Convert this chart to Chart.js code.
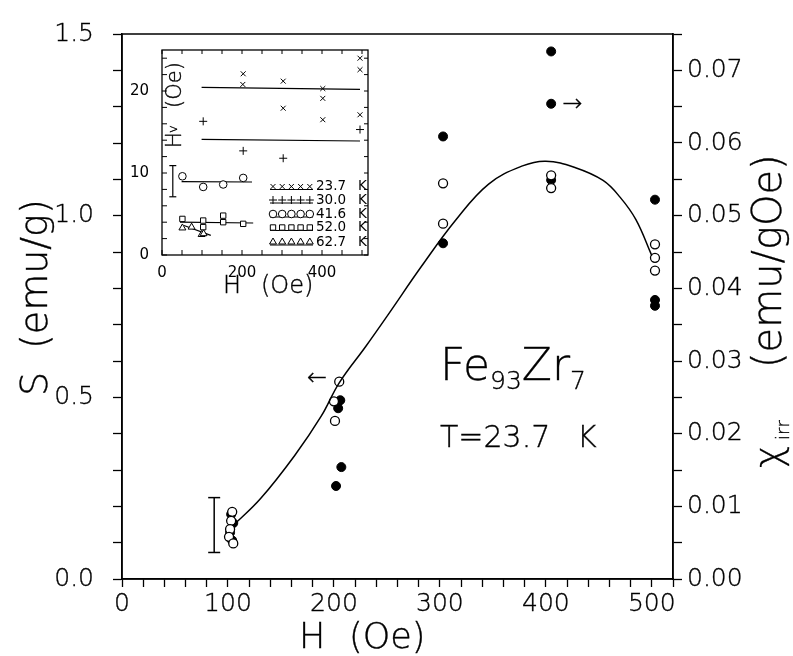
<!DOCTYPE html>
<html>
<head>
<meta charset="utf-8">
<script src="https://cdn.jsdelivr.net/npm/chart.js@4.4.1/dist/chart.umd.min.js"></script>
<style>
  html, body { margin: 0; padding: 0; background: #fff; }
  #wrap { position: relative; width: 793px; height: 656px; }
  #main { position: absolute; left: 0; top: 0; }
  #inset { position: absolute; left: 112px; top: 36px; }
</style>
</head>
<body>
<div id="wrap">
  <canvas id="main" width="793" height="656"></canvas>
  <canvas id="inset" width="262" height="266"></canvas>
</div>
<script>
// ---- main panel: remanence S (left axis) and chi_irr (right axis) vs H ----
const sField = [104, 103, 102, 101, 105, 205, 200, 201, 303, 303, 405, 405, 503, 503, 503];
const sValue = [0.185, 0.16, 0.137, 0.116, 0.098, 0.543, 0.489, 0.435, 1.089, 0.978, 1.111, 1.076, 0.921, 0.884, 0.849];

const chiField = [103, 105, 102, 104, 206, 204, 207, 202, 303, 303, 405, 405, 405, 503, 503, 503];
const chiValue = [0.0089, 0.0077, 0.0064, 0.0053, 0.0246, 0.0235, 0.0154, 0.0128, 0.0609, 0.0462, 0.0726, 0.0654, 0.0549, 0.0522, 0.0384, 0.0376];

// smooth guide through S(H)
const fitField = [106, 131, 163, 188, 205, 230, 251, 283, 315, 346, 378, 400, 428, 454, 470, 485, 500];
const fitS = [0.150, 0.222, 0.340, 0.448, 0.540, 0.640, 0.727, 0.862, 0.988, 1.087, 1.137, 1.150, 1.132, 1.097, 1.051, 0.989, 0.890];

// typical error bar on S
const errField = [87, 87];
const errS = [0.073, 0.224];

const xTickLabels = [0, 100, 200, 300, 400, 500];
const sTickLabels = [0, 0.5, 1.0, 1.5];
const chiTickLabels = [0, 0.01, 0.02, 0.03, 0.04, 0.05, 0.06, 0.07];

// ---- inset: Hv vs H at several temperatures ----
const temps = ['23.7', '30.0', '41.6', '52.0', '62.7'];
const insetField = [
  [203, 202, 303, 303, 402, 402, 402, 495, 495, 495],
  [103, 203, 303, 495],
  [51, 103, 153, 203],
  [51, 103, 103, 153, 153, 203],
  [51, 74, 99, 104]
];
const insetHv = [
  [22.1, 20.8, 21.2, 17.9, 20.3, 19.1, 16.5, 24.0, 22.6, 17.1],
  [16.3, 12.7, 11.8, 15.3],
  [9.6, 8.3, 8.6, 9.4],
  [4.4, 4.2, 3.4, 4.8, 4.0, 3.8],
  [3.3, 3.4, 2.5, 2.6]
];
const insetFitField = [[99, 495], [99, 495], [49, 225], [45, 228], [55, 122]];
const insetFitHv = [[20.45, 20.2], [14.1, 13.9], [8.95, 8.9], [4.0, 3.9], [3.6, 2.4]];
const insetErrField = [27, 27];
const insetErrHv = [7.1, 10.9];
const insetXTickLabels = [0, 200, 400];
const insetYTickLabels = [0, 10, 20];

const FONT = '"DejaVu Sans ExtraLight", "DejaVu Sans Light", "DejaVu Sans", sans-serif';
const SMALL = '"DejaVu Sans", sans-serif';
const OUTLINE = 0.35;
Chart.defaults.font.family = FONT;
Chart.defaults.font.weight = 200;
Chart.defaults.color = '#000';

const pts = (xs, ys) => xs.map((x, i) => ({ x: x, y: ys[i] }));
const has = (list, v) => list.some(t => Math.abs(t - v) < 1e-6);

// thin font, so each label gets a light outline as well
function label(ctx, text, x, y) {
  ctx.fillText(text, x, y);
  ctx.strokeText(text, x, y);
}

function rotatedText(ctx, x, y, parts) {
  // parts: [text, size, u offset, v offset]; drawn reading bottom-to-top
  ctx.save();
  ctx.translate(x, y);
  ctx.rotate(-Math.PI / 2);
  ctx.textAlign = 'left';
  ctx.textBaseline = 'alphabetic';
  parts.forEach(p => {
    ctx.font = `200 ${p[1]}px ${FONT}`;
    label(ctx, p[0], p[2], p[3]);
  });
  ctx.restore();
}

const mainDecor = {
  id: 'mainDecor',
  afterDraw(chart) {
    const { ctx, chartArea: a, scales } = chart;
    ctx.save();
    ctx.strokeStyle = '#000';
    ctx.lineWidth = 1.5;
    ctx.strokeRect(a.left, a.top, a.right - a.left, a.bottom - a.top);

    ctx.fillStyle = '#000';
    ctx.lineWidth = OUTLINE;
    ctx.textBaseline = 'alphabetic';
    ctx.textAlign = 'left';
    ctx.font = `200 35px ${FONT}`;
    label(ctx, 'H', 299, 648);
    label(ctx, '(Oe)', 349, 648);

    rotatedText(ctx, 47, 396, [['S', 38, 0, 0], ['(emu/g)', 38, 47, 0]]);
    rotatedText(ctx, 781, 468, [['\u03C7', 38, 0, 0], ['irr', 18, 28, 8], ['(emu/gOe)', 40, 100, 0]]);

    // sample label
    let x = 440;
    const put = (t, size, base) => {
      ctx.font = `200 ${size}px ${FONT}`;
      label(ctx, t, x, base);
      x += ctx.measureText(t).width;
    };
    put('Fe', 44, 380);
    put('93', 25, 389);
    put('Zr', 44, 380);
    put('7', 25, 389);
    ctx.font = `200 30px ${FONT}`;
    label(ctx, 'T=23.7', 440, 447);
    label(ctx, 'K', 577, 447);

    // arrows pointing to the axis each data set belongs to
    ctx.font = `200 24px ${FONT}`;
    ctx.textAlign = 'center';
    ctx.textBaseline = 'middle';
    label(ctx, '\u2190', scales.x.getPixelForValue(184), scales.y.getPixelForValue(0.551));
    label(ctx, '\u2192', scales.x.getPixelForValue(425), scales.y2.getPixelForValue(0.0653));
    ctx.restore();
  }
};

const tickFont = { size: 25 };

new Chart(document.getElementById('main'), {
  type: 'scatter',
  data: {
    datasets: [
      {
        type: 'line', data: pts(fitField, fitS), yAxisID: 'y',
        borderColor: '#000', borderWidth: 1.5, pointRadius: 0, tension: 0.4, fill: false
      },
      {
        data: pts(sField, sValue), yAxisID: 'y', pointStyle: 'circle', pointRadius: 4.5,
        backgroundColor: '#fff', borderColor: '#000', borderWidth: 1.3
      },
      {
        data: pts(chiField, chiValue), yAxisID: 'y2', pointStyle: 'circle', pointRadius: 4.5,
        backgroundColor: '#000', borderColor: '#000', borderWidth: 1
      },
      {
        type: 'line', data: pts(errField, errS), yAxisID: 'y', showLine: true,
        borderColor: '#000', borderWidth: 1.5, pointStyle: 'line', pointRadius: 6,
        pointBorderWidth: 1.5, pointBorderColor: '#000'
      }
    ]
  },
  options: {
    responsive: false,
    animation: false,
    layout: { padding: { top: 24, left: 0, right: 0, bottom: 0 } },
    plugins: { legend: { display: false }, tooltip: { enabled: false } },
    scales: {
      x: {
        type: 'linear', min: 0, max: 520,
        afterFit: s => { s.height = 77; },
        border: { color: '#000', width: 1.5 },
        grid: { drawOnChartArea: false, tickLength: 8, tickColor: '#000', tickWidth: 1.3 },
        ticks: {
          stepSize: 20, autoSkip: false, maxRotation: 0, padding: 2,
          font: tickFont, textStrokeColor: '#000', textStrokeWidth: OUTLINE,
          callback: v => has(xTickLabels, v) ? String(v) : ''
        }
      },
      y: {
        position: 'left', min: 0, max: 1.5,
        afterFit: s => { s.width = 122; },
        border: { color: '#000', width: 1.5 },
        grid: { drawOnChartArea: false, tickLength: 9, tickColor: '#000', tickWidth: 1.3 },
        ticks: {
          stepSize: 0.1, autoSkip: false, padding: 19,
          font: tickFont, textStrokeColor: '#000', textStrokeWidth: OUTLINE,
          callback: v => has(sTickLabels, v) ? v.toFixed(1) : ''
        }
      },
      y2: {
        position: 'right', min: 0, max: 0.075,
        afterFit: s => { s.width = 120; },
        border: { color: '#000', width: 1.5 },
        grid: { drawOnChartArea: false, tickLength: 9, tickColor: '#000', tickWidth: 1.3 },
        ticks: {
          stepSize: 0.005, autoSkip: false, padding: 5,
          font: tickFont, textStrokeColor: '#000', textStrokeWidth: OUTLINE,
          callback: v => has(chiTickLabels, v) ? v.toFixed(2) : ''
        }
      }
    }
  },
  plugins: [mainDecor]
});

// ---- inset ----
const markers = [
  { style: 'crossRot', radius: 3.5, fill: '#000' },
  { style: 'cross', radius: 4, fill: '#000' },
  { style: 'circle', radius: 3.8, fill: '#fff' },
  { style: 'rect', radius: 3.8, fill: '#fff' },
  { style: 'triangle', radius: 4, fill: '#fff' }
];

const insetDecor = {
  id: 'insetDecor',
  afterDraw(chart) {
    const { ctx, chartArea: a, scales } = chart;
    ctx.save();
    ctx.strokeStyle = '#000';
    ctx.lineWidth = 1.3;
    ctx.strokeRect(a.left, a.top, a.right - a.left, a.bottom - a.top);

    // inward ticks on all four sides
    ctx.lineWidth = 1;
    ctx.beginPath();
    scales.x.ticks.forEach(t => {
      const px = scales.x.getPixelForValue(t.value);
      ctx.moveTo(px, a.bottom); ctx.lineTo(px, a.bottom - 5);
      ctx.moveTo(px, a.top); ctx.lineTo(px, a.top + 4);
    });
    scales.y.ticks.forEach(t => {
      const py = scales.y.getPixelForValue(t.value);
      ctx.moveTo(a.left, py); ctx.lineTo(a.left + 5, py);
      ctx.moveTo(a.right, py); ctx.lineTo(a.right - 4, py);
    });
    ctx.stroke();

    ctx.fillStyle = '#000';
    ctx.lineWidth = OUTLINE;
    ctx.font = `200 24px ${FONT}`;
    ctx.textAlign = 'left';
    ctx.textBaseline = 'alphabetic';
    label(ctx, 'H', a.left + 61, a.bottom + 38);
    label(ctx, '(Oe)', a.left + 99, a.bottom + 38);

    rotatedText(ctx, a.left + 19, a.top + 98, [['H', 21, 0, 0], ['v', 13, 15, -4], ['(Oe)', 21, 40, 0]]);

    // legend
    const rows = [136.5, 150, 164, 177.5, 192];
    ctx.font = `13.5px ${SMALL}`;
    ctx.textBaseline = 'middle';
    ctx.lineWidth = 1;
    temps.forEach((t, i) => {
      const y = a.top + rows[i];
      const x0 = a.left + 108, x1 = a.left + 151;
      ctx.beginPath();
      ctx.moveTo(x0, y + 3); ctx.lineTo(x1, y + 3);
      ctx.stroke();
      const m = markers[i];
      for (let k = 0; k < 5; k++) {
        ctx.fillStyle = m.fill;
        Chart.helpers.drawPoint(ctx, { pointStyle: m.style, radius: m.radius, rotation: 0, borderWidth: 1 },
          x0 + 3 + k * 9.2, y);
      }
      ctx.fillStyle = '#000';
      ctx.fillText(t, a.left + 154, y);
      ctx.fillText('K', a.left + 196, y);
    });
    ctx.restore();
  }
};

const insetSets = [];
temps.forEach((t, i) => {
  const m = markers[i];
  insetSets.push({
    data: pts(insetField[i], insetHv[i]), pointStyle: m.style, pointRadius: m.radius,
    backgroundColor: m.fill, borderColor: '#000', borderWidth: 1
  });
  insetSets.push({
    type: 'line', data: pts(insetFitField[i], insetFitHv[i]), borderColor: '#000',
    borderWidth: 1.2, pointRadius: 0, fill: false
  });
});
insetSets.push({
  type: 'line', data: pts(insetErrField, insetErrHv), showLine: true, borderColor: '#000',
  borderWidth: 1.2, pointStyle: 'line', pointRadius: 3.5, pointBorderWidth: 1.2, pointBorderColor: '#000'
});

new Chart(document.getElementById('inset'), {
  type: 'scatter',
  data: { datasets: insetSets },
  options: {
    responsive: false,
    animation: false,
    layout: { padding: { top: 10, right: 6, left: 0, bottom: 0 } },
    plugins: { legend: { display: false }, tooltip: { enabled: false } },
    scales: {
      x: {
        type: 'linear', min: 0, max: 515,
        afterFit: s => { s.height = 47; },
        border: { display: false },
        grid: { display: false },
        ticks: {
          stepSize: 50, autoSkip: false, maxRotation: 0, padding: 1, includeBounds: false,
          font: { family: SMALL, size: 15, weight: 400 },
          callback: v => has(insetXTickLabels, v) ? String(v) : ''
        }
      },
      y: {
        min: 0, max: 25,
        afterFit: s => { s.width = 50; },
        border: { display: false },
        grid: { display: false },
        ticks: {
          stepSize: 2, autoSkip: false, padding: 5, includeBounds: false,
          font: { family: SMALL, size: 15, weight: 400 },
          callback: v => has(insetYTickLabels, v) ? String(v) : ''
        }
      }
    }
  },
  plugins: [insetDecor]
});
</script>
</body>
</html>
